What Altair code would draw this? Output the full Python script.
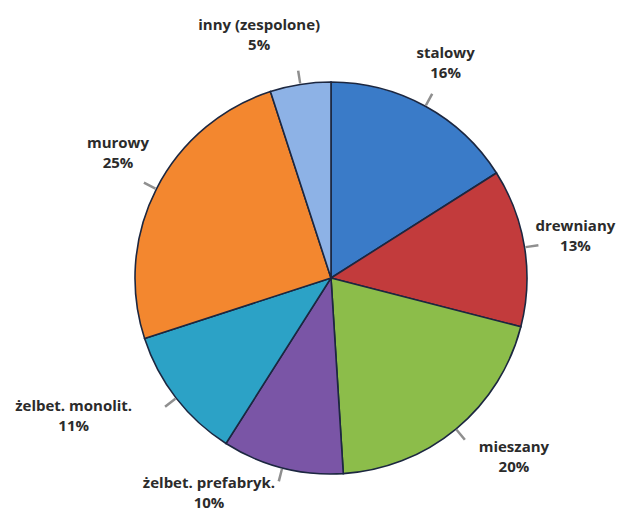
import altair as alt
import pandas as pd
import numpy as np

categories = ["stalowy", "drewniany", "mieszany", "żelbet. prefabryk.",
              "żelbet. monolit.", "murowy", "inny (zespolone)"]
values = [16, 13, 20, 10, 11, 25, 5]
colors = ["#3a7bc8", "#c23b3c", "#8cbd4a", "#7a55a6", "#2ca2c6", "#f3872f", "#8db2e6"]

# label layout nudges (degrees relative to slice middle, label distance in px)
label_nudge = [-0.8, -0.8, -6.0, 15.2, 9.6, 3.4, -7.5]
label_dist = [244, 248, 256, 247, 292, 247, 253]

CX, CY, R = 323, 270, 196

df = pd.DataFrame({"cat": categories, "val": values, "order": range(len(values))})
total = float(sum(values))
cum = np.cumsum(values)
start_deg = (cum - np.array(values)) / total * 360.0
end_deg = cum / total * 360.0
mid_deg = (start_deg + end_deg) / 2.0
df["start"] = start_deg
df["end"] = end_deg
df["lab_ang"] = mid_deg + np.array(label_nudge)
df["lab_r"] = label_dist
df["tick_a"] = mid_deg - 0.35
df["tick_b"] = mid_deg + 0.35
df["label"] = [f"{c}\n{v}%" for c, v in zip(categories, values)]

base = alt.Chart(df)
deg_scale = alt.Scale(domain=[0, 360], range=[0, 2 * np.pi], zero=True)

pie = base.mark_arc(stroke="#1c2740", strokeWidth=1.6).encode(
    theta=alt.Theta("start:Q", stack=None, scale=deg_scale),
    theta2=alt.Theta2("end:Q"),
    color=alt.Color("cat:N", scale=alt.Scale(domain=categories, range=colors), legend=None),
    x=alt.value(CX), y=alt.value(CY),
    radius=alt.value(R),
)

ticks = base.mark_arc(color="#8f8f8f").encode(
    theta=alt.Theta("tick_a:Q", stack=None, scale=deg_scale),
    theta2=alt.Theta2("tick_b:Q"),
    x=alt.value(CX), y=alt.value(CY),
    radius=alt.value(R + 14),
    radius2=alt.value(R + 1),
)

labels = base.mark_text(
    font="Open Sans", fontWeight="bold", fontSize=15, color="#2b2b2b",
    lineBreak="\n", lineHeight=20, align="center", baseline="middle", dy=-10,
).encode(
    theta=alt.Theta("lab_ang:Q", stack=None, scale=deg_scale),
    radius=alt.Radius("lab_r:Q", scale=alt.Scale(type="linear", domain=[0, 300], range=[0, 300], zero=True)),
    x=alt.value(CX), y=alt.value(CY),
    text="label:N",
)

chart = alt.layer(pie, ticks, labels).properties(
    width=610, height=507, padding=0, autosize=alt.AutoSizeParams(type="none")
).configure(background="white").configure_view(stroke=None)

chart.save("out.html", embed_options={"renderer": "svg", "actions": False})
